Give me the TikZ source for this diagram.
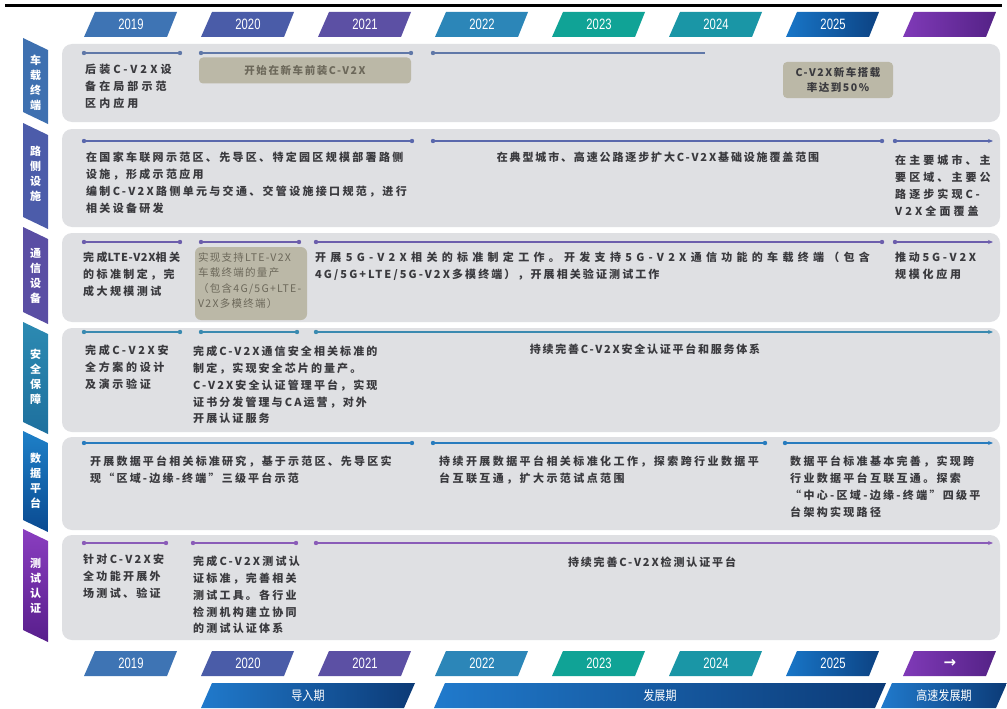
\documentclass[tikz,border=0pt]{standalone}
\usepackage{fontspec}
\newfontfamily\cjk{Noto Sans CJK SC}
\newfontfamily\cjkn[FakeStretch=0.85]{Noto Sans CJK SC}
\newfontfamily\yearfont[FakeStretch=0.75]{Liberation Sans}
\newfontfamily\symfont{DejaVu Sans}
\usetikzlibrary{arrows.meta}
\definecolor{rowgray}{RGB}{223,224,227}
\definecolor{tgray}{RGB}{58,58,62}
\definecolor{khaki}{RGB}{187,184,167}
\definecolor{khakitxt}{RGB}{108,104,90}
\definecolor{c19}{RGB}{62,116,180}
\definecolor{c20}{RGB}{74,92,168}
\definecolor{c21}{RGB}{92,80,164}
\definecolor{c22}{RGB}{44,134,184}
\definecolor{c23}{RGB}{16,163,150}
\definecolor{c24}{RGB}{26,150,166}
\definecolor{c25}{RGB}{24,118,200}
\definecolor{c25d}{RGB}{12,66,130}
\definecolor{cpur}{RGB}{128,58,184}
\definecolor{cpurd}{RGB}{84,34,134}
\definecolor{barl}{RGB}{32,122,204}
\definecolor{bard}{RGB}{12,58,118}
\definecolor{t1}{RGB}{62,112,176}
\definecolor{t2}{RGB}{76,92,170}
\definecolor{t3}{RGB}{90,78,164}
\definecolor{t4a}{RGB}{44,138,178}
\definecolor{t4b}{RGB}{30,112,158}
\definecolor{t5a}{RGB}{30,128,200}
\definecolor{t5b}{RGB}{10,74,145}
\definecolor{t6a}{RGB}{138,62,192}
\definecolor{t6b}{RGB}{88,30,140}
\definecolor{l1}{RGB}{96,120,168}
\definecolor{l2}{RGB}{90,104,172}
\definecolor{l3}{RGB}{108,94,172}
\definecolor{l4}{RGB}{58,138,176}
\definecolor{l5}{RGB}{40,124,190}
\definecolor{l6}{RGB}{138,92,184}

\newcommand\tlseg[5]{%
  \coordinate (#1a) at (#2,#4); \coordinate (#1b) at (#3,#4);
  \draw[segline,#5] (#1a) -- (#1b);
  \fill[#5] (#1a) circle (2.2pt) (#1b) circle (2.2pt);}
\newcommand\tlarrow[5]{%
  \coordinate (#1a) at (#2,#4); \coordinate (#1b) at (#3,#4);
  \draw[segline,#5,-{Stealth[length=5pt,width=4pt]}] (#1a) -- (#1b);
  \fill[#5] (#1a) circle (2.2pt);}
\newcommand\ytile[5]{%
  \path[#4] (#2-36,#3) -- (#2+46,#3) -- (#2+36,#3+25) -- (#2-47,#3+25) -- cycle;
  \node[yeartxt] (#1) at (#2,#3+12.5) {#5};}
\newcommand\pbar[4]{%
  \path[left color=barl,right color=bard] (#2+11,683) -- (#3,683) -- (#3-11,708) -- (#2,708) -- cycle;
  \node[phasetxt] (#1) at ({(#2+#3)/2},695.5) {#4};}
\newcommand\rowtab[6]{%
  \path[#4] (23,#2-6) -- (48,#2+6) -- (48,#3+2) -- (23,#3-10) -- cycle;
  \node[tabtxt] (#1) at (35.5,{(#2+#3)/2+#5}) {#6};}

\begin{document}
\begin{tikzpicture}[x=1pt,y=-1pt,
  segline/.style={line width=1.3pt},
  rowbox/.style={fill=rowgray,rounded corners=10pt},
  yeartxt/.style={font=\yearfont\fontsize{15}{15}\selectfont,text=white,inner sep=0},
  phasetxt/.style={font=\cjkn\fontsize{13}{13}\selectfont,text=white,inner sep=0},
  tabtxt/.style={font=\cjk\bfseries\fontsize{11}{15}\selectfont,text=white,align=center,inner sep=0},
  txt/.style={text=tgray,align=left,anchor=north west,inner sep=0},
  ls/.style={font=\cjk\bfseries\fontsize{11}{16.8}\selectfont\addfontfeature{LetterSpace=#1}},
  mid/.style={text=tgray,anchor=center,inner sep=0},
  khakibox/.style={fill=khaki,rounded corners=4pt,inner sep=0,align=center}]
\useasboundingbox (0,0) rectangle (1007,709);
\fill[white] (0,0) rectangle (1007,709);

% top rule
\draw[line width=3pt] (5,6) -- (1002,6);

% top year tiles
\ytile{ty19}{131}{12}{fill=c19}{2019}
\ytile{ty20}{248}{12}{fill=c20}{2020}
\ytile{ty21}{365}{12}{fill=c21}{2021}
\ytile{ty22}{482}{12}{fill=c22}{2022}
\ytile{ty23}{599}{12}{fill=c23}{2023}
\ytile{ty24}{716}{12}{fill=c24}{2024}
\ytile{ty25}{833}{12}{left color=c25,right color=c25d}{2025}
\path[left color=cpur,right color=cpurd] (914,12) -- (996,12) -- (986,37) -- (903,37) -- cycle;

% rows
\fill[rowbox] (62,44) rectangle (1000,122);
\fill[rowbox] (62,129) rectangle (1000,227);
\fill[rowbox] (62,233) rectangle (1000,322);
\fill[rowbox] (62,328) rectangle (1000,432);
\fill[rowbox] (62,437) rectangle (1000,530);
\fill[rowbox] (62,535) rectangle (1000,640);

% tabs
\rowtab{tab1}{44}{122}{fill=t1}{0}{车\\载\\终\\端}
\rowtab{tab2}{129}{227}{fill=t2}{-4}{路\\侧\\设\\施}
\rowtab{tab3}{233}{322}{fill=t3}{-2}{通\\信\\设\\备}
\rowtab{tab4}{328}{432}{top color=t4a,bottom color=t4b}{-3}{安\\全\\保\\障}
\rowtab{tab5}{437}{530}{top color=t5a,bottom color=t5b}{-3}{数\\据\\平\\台}
\rowtab{tab6}{535}{640}{top color=t6a,bottom color=t6b}{-2}{测\\试\\认\\证}

% row 1
\tlseg{s11}{84}{180}{53}{l1}
\tlseg{s12}{201}{411}{53}{l1}
\coordinate (s13a) at (433,53); \coordinate (s13b) at (705,53);
\draw[segline,l1] (s13a) -- (s13b); \fill[l1] (s13a) circle (2.2pt);
\node[txt,ls=28] (t11) at (85,64) {后装C-V2X设\\备在局部示范\\区内应用};
\node[khakibox,minimum width=212pt,minimum height=26pt,text=khakitxt,font=\cjk\bfseries\fontsize{10.5}{15}\selectfont\addfontfeature{LetterSpace=15}] (kb1) at (305,70.5) {开始在新车前装C-V2X};
\node[khakibox,minimum width=110pt,minimum height=36pt,text=tgray,font=\cjk\bfseries\fontsize{10.5}{15}\selectfont\addfontfeature{LetterSpace=15}] (kb2) at (838,80) {C-V2X新车搭载\\率达到50\%};

% row 2
\tlseg{s21}{84}{412}{141}{l2}
\tlseg{s22}{433}{882}{141}{l2}
\tlarrow{a23}{895}{993}{141}{l2}
\node[txt,ls=21] (t21) at (86,152) {在国家车联网示范区、先导区、特定园区规模部署路侧\\设施，形成示范应用\\编制C-V2X路侧单元与交通、交管设施接口规范，进行\\相关设备研发};
\node[mid,ls=17] (t22) at (658,157) {在典型城市、高速公路逐步扩大C-V2X基础设施覆盖范围};
\node[txt,ls=28] (t23) at (895,155) {在主要城市、主\\要区域、主要公\\路逐步实现C-\\V2X全面覆盖};

% row 3
\tlseg{s31}{84}{180}{242}{l3}
\tlseg{s32}{201}{299}{242}{l3}
\tlseg{s33}{316}{882}{242}{l3}
\tlarrow{a34}{895}{993}{242}{l3}
\node[txt,ls=22] (t31) at (83,252) {完成{\addfontfeature{LetterSpace=6}LTE-V2X}相关\\的标准制定，完\\成大规模测试};
\fill[khaki,rounded corners=6pt] (195,247) rectangle (307,320);
\node[txt,text=khakitxt,font=\cjk\fontsize{10.5}{15.5}\selectfont\addfontfeature{LetterSpace=12}] (t3box) at (198,252) {实现支持LTE-V2X\\车载终端的量产\\（包含4G/5G+LTE-\\V2X多模终端）};
\node[txt,ls=19] (t32) at (315,252) {{\addfontfeature{LetterSpace=39}开展5G-V2X相关的标准制定工作。开发支持5G-V2X通信功能的车载终端（包含}\\4G/5G+LTE/5G-V2X多模终端），开展相关验证测试工作};
\node[txt,ls=25] (t33) at (895,252) {推动5G-V2X\\规模化应用};

% row 4
\tlseg{s41}{84}{180}{332}{l4}
\tlseg{s42}{201}{297}{332}{l4}
\tlarrow{a43}{316}{993}{332}{l4}
\node[txt,ls=24] (t41) at (85,345) {完成C-V2X安\\全方案的设计\\及演示验证};
\node[txt,ls=19] (t42) at (193,346) {完成C-V2X通信安全相关标准的\\制定，实现安全芯片的量产。\\C-V2X安全认证管理平台，实现\\证书分发管理与CA运营，对外\\开展认证服务};
\node[mid,ls=16] (t43) at (645,349) {持续完善C-V2X安全认证平台和服务体系};

% row 5
\tlseg{s51}{84}{412}{443}{l5}
\tlseg{s52}{433}{765}{443}{l5}
\tlarrow{a53}{785}{993}{443}{l5}
\node[txt,ls=20] (t51) at (90,456) {开展数据平台相关标准研究，基于示范区、先导区实\\现“区域-边缘-终端”三级平台示范};
\node[txt,ls=22] (t52) at (439,456) {持续开展数据平台相关标准化工作，探索跨行业数据平\\台互联互通，扩大示范试点范围};
\node[txt,ls=21] (t53) at (790,456) {数据平台标准基本完善，实现跨\\行业数据平台互联互通。探索\\“中心-区域-边缘-终端”四级平\\台架构实现路径};

% row 6
\tlseg{s61}{84}{166}{543}{l6}
\tlseg{s62}{193}{296}{543}{l6}
\tlarrow{a63}{316}{993}{543}{l6}
\node[txt,ls=21] (t61) at (83,554) {针对C-V2X安\\全功能开展外\\场测试、验证};
\node[txt,ls=20] (t62) at (193,556) {完成C-V2X测试认\\证标准，完善相关\\测试工具。各行业\\检测机构建立协同\\的测试认证体系};
\node[mid,ls=17] (t63) at (652,562) {持续完善C-V2X检测认证平台};

% bottom year tiles
\ytile{by19}{131}{651}{fill=c19}{2019}
\ytile{by20}{248}{651}{fill=c20}{2020}
\ytile{by21}{365}{651}{fill=c21}{2021}
\ytile{by22}{482}{651}{fill=c22}{2022}
\ytile{by23}{599}{651}{fill=c23}{2023}
\ytile{by24}{716}{651}{fill=c24}{2024}
\ytile{by25}{833}{651}{left color=c25,right color=c25d}{2025}
\ytile{byar}{950}{651}{left color=cpur,right color=cpurd}{\symfont\bfseries →}

% phase bars
\pbar{p1}{201}{415}{导入期}
\pbar{p2}{434}{886}{发展期}
\pbar{p3}{881}{1007}{高速发展期}
\end{tikzpicture}
\end{document}
